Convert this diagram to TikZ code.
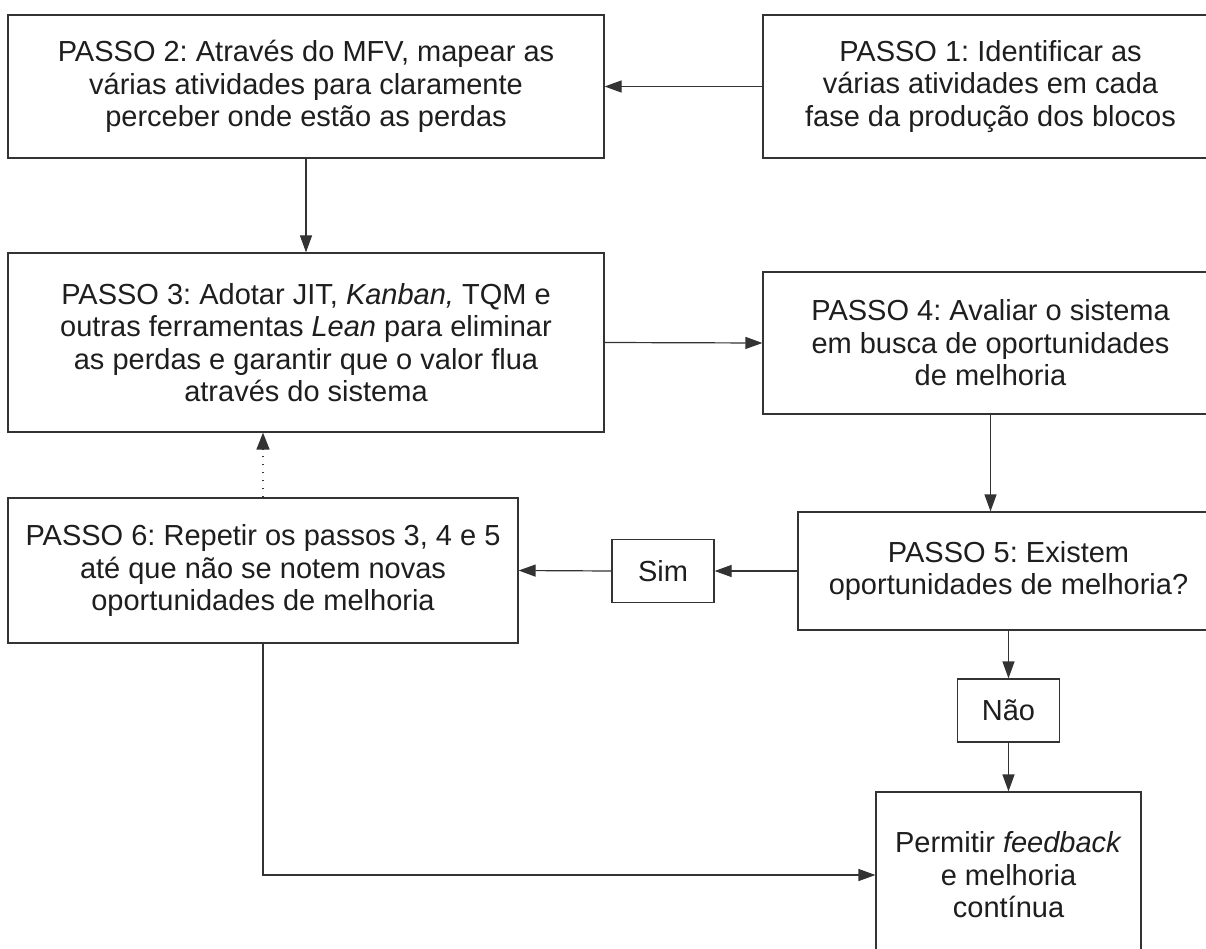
\documentclass[tikz,border=0pt]{standalone}
\usepackage{fontspec}
\setmainfont{Liberation Sans}
\usetikzlibrary{arrows.meta}
\definecolor{ink}{HTML}{1E1E1E}
\definecolor{rule}{HTML}{333333}
\frenchspacing
\begin{document}
\begin{tikzpicture}[x=1pt,y=-1pt,
  font=\fontsize{29}{32.5}\selectfont,
  stepbox/.style={draw=rule, line width=1.2pt, text=ink, align=center,
    inner sep=0pt, rectangle},
  flow/.style={draw=rule, line width=1.2pt,
    -{Triangle[length=17pt,width=12pt]}},
  hint/.style={draw=rule, line width=1.4pt, dash pattern=on 1.4pt off 6.6pt,
    -{Triangle[length=17pt,width=13pt,sep=0pt]}}]
\useasboundingbox (0,0) rectangle (1206,949);
\clip (0,0) rectangle (1206,949);
\fill[white] (0,0) rectangle (1206,949);

% process steps
\node[stepbox, minimum width=455pt, minimum height=143pt] (b1) at (990.5,86.5)
  {PASSO 1: Identificar as\\várias atividades em cada\\fase da produção dos blocos};
\node[stepbox, minimum width=596pt, minimum height=143pt] (b2) at (306,86.5)
  {PASSO 2: Através do MFV, mapear as\\várias atividades para claramente\\perceber onde estão as perdas};
\node[stepbox, minimum width=596pt, minimum height=179pt] (b3) at (306,342.5)
  {PASSO 3: Adotar JIT, \textit{Kanban,} TQM e\\outras ferramentas \textit{Lean} para eliminar\\as perdas e garantir que o valor flua\\através do sistema};
\node[stepbox, minimum width=455pt, minimum height=142pt] (b4) at (990.5,343)
  {PASSO 4: Avaliar o sistema\\em busca de oportunidades\\de melhoria};
\node[stepbox, minimum width=421pt, minimum height=118pt] (b5) at (1008.5,571)
  {PASSO 5: Existem\\oportunidades de melhoria?};
\node[stepbox, minimum width=510pt, minimum height=145pt] (b6) at (263,570.5)
  {PASSO 6: Repetir os passos 3, 4 e 5\\até que não se notem novas\\oportunidades de melhoria};

% decision answers
\node[stepbox, minimum width=102pt, minimum height=63pt] (sim) at (663,571) {Sim};
\node[stepbox, minimum width=102pt, minimum height=63pt] (nao) at (1008.5,710.5) {Não};

% final step
\node[stepbox, minimum width=265pt, minimum height=166pt] (fb) at (1008.5,875)
  {Permitir \textit{feedback}\\e melhoria\\contínua};

% connectors
\draw[flow] (b1.west) -- (b2.east);
\draw[flow] (b2.south) -- (b3.north);
\draw[flow] (b3.east) -- (b4.west);
\draw[flow] (b4.south) -- (b4.south |- b5.north);
\draw[flow] (b5.west) -- (sim.east);
\draw[flow] (sim.west) -- (b6.east);
\draw[flow] (b5.south) -- (nao.north);
\draw[flow] (nao.south) -- (fb.north);
\draw[flow] (b6.south) |- (fb.west);
\draw[hint] (b6.north) -- (b6.north |- b3.south);
\end{tikzpicture}
\end{document}
